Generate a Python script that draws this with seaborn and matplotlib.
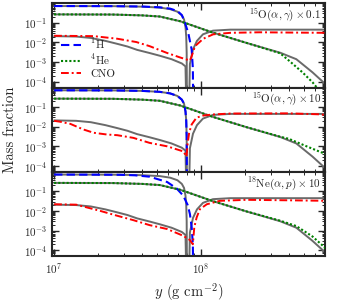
import numpy as np
import matplotlib
matplotlib.use("Agg")
import matplotlib.pyplot as plt
from matplotlib.ticker import LogLocator, NullFormatter
import seaborn as sns

# column depth given as log10(y / g cm^-2)
# baseline run, drawn grey in every panel
base_h_x = [7.0, 7.4, 7.6, 7.72, 7.79, 7.84, 7.87, 7.885, 7.895, 7.900, 7.903, 7.906]
base_h = [0.72, 0.71, 0.67, 0.60, 0.50, 0.37, 0.24, 0.15, 0.06, 0.02, 3e-3, 1e-7]
base_he_x = [7.0, 7.4, 7.6, 7.72, 7.86, 7.95, 8.08, 8.31, 8.54, 8.65, 8.76, 8.83, 8.85]
base_he = [0.27, 0.265, 0.24, 0.21, 0.12, 0.07, 0.032, 0.0095, 0.003, 0.0014, 3e-4, 1e-4, 7e-5]
base_cno_x = [7.0, 7.15, 7.25, 7.35, 7.43, 7.5, 7.565, 7.65, 7.72, 7.8, 7.87, 7.895, 7.905,
              7.915, 7.925, 7.946, 7.973, 8.014, 8.082, 8.2, 8.5, 8.85]
base_cno = [0.021, 0.02, 0.017, 0.012, 0.0085, 0.0062, 0.0042, 0.0029, 0.0021, 0.0014, 8.5e-4, 6e-4, 1e-7,
            1e-7, 8e-4, 4.4e-3, 0.012, 0.026, 0.04, 0.045, 0.045, 0.045]

# panel 1: 15O(a,g) x0.1
p1_h_x = [7.0, 7.4, 7.6, 7.72, 7.79, 7.84, 7.87, 7.89, 7.914, 7.937, 7.945, 7.95]
p1_h = [0.72, 0.71, 0.68, 0.62, 0.53, 0.40, 0.25, 0.11, 0.03, 4.4e-3, 5e-4, 1e-7]
p1_he_x = [7.0, 7.4, 7.6, 7.72, 7.86, 7.95, 8.08, 8.31, 8.54, 8.605, 8.694, 8.762, 8.80]
p1_he = [0.27, 0.265, 0.24, 0.21, 0.12, 0.07, 0.032, 0.0095, 0.0028, 1.1e-3, 2.9e-4, 9e-5, 4e-5]
p1_cno_x = [7.0, 7.27, 7.43, 7.56, 7.65, 7.77, 7.86, 7.91, 7.925, 7.935, 7.96, 8.016, 8.084,
            8.2, 8.4, 8.6, 8.85]
p1_cno = [0.022, 0.021, 0.0155, 0.0105, 0.0065, 0.0029, 0.0017, 0.0013, 0.0012, 0.0018, 0.0065,
          0.0155, 0.026, 0.031, 0.033, 0.032, 0.031]

# panel 2: 15O(a,g) x10
p2_h_x = base_h_x
p2_h = base_h
p2_he_x = [7.0, 7.4, 7.6, 7.72, 7.86, 7.95, 8.08, 8.31, 8.54, 8.6, 8.72, 8.83, 8.85]
p2_he = [0.27, 0.265, 0.24, 0.21, 0.12, 0.07, 0.032, 0.0095, 0.0031, 0.0024, 1e-3, 4.6e-4, 4.2e-4]
p2_cno_x = [7.0, 7.04, 7.11, 7.2, 7.27, 7.36, 7.43, 7.54, 7.65, 7.77, 7.88, 7.902, 7.91, 7.92,
            7.937, 7.97, 8.016, 8.08, 8.2, 8.6, 8.8, 8.85]
p2_cno = [0.02, 0.018, 0.014, 0.0072, 0.0049, 0.004, 0.0037, 0.0027, 0.0015, 0.001, 5.5e-4, 3e-4,
          1.5e-3, 5e-3, 0.013, 0.029, 0.037, 0.042, 0.047, 0.048, 0.043, 0.04]

# panel 3: 18Ne(a,p) x10
p3_h_x = [7.0, 7.45, 7.55, 7.65, 7.77, 7.835, 7.88, 7.91, 7.925, 7.937, 7.945, 7.95]
p3_h = [0.72, 0.70, 0.66, 0.56, 0.30, 0.14, 0.06, 0.02, 7e-3, 1.5e-3, 2e-4, 1e-7]
p3_he_x = [7.0, 7.4, 7.6, 7.72, 7.86, 7.95, 8.08, 8.31, 8.54, 8.65, 8.76, 8.83, 8.85]
p3_he = [0.27, 0.265, 0.24, 0.21, 0.12, 0.07, 0.032, 0.0095, 0.0032, 0.0017, 5e-4, 1.7e-4, 1.2e-4]
p3_cno_x = [7.0, 7.15, 7.31, 7.43, 7.54, 7.65, 7.77, 7.88, 7.925, 7.945, 7.955, 7.971, 7.993,
            8.04, 8.13, 8.31, 8.6, 8.85]
p3_cno = [0.022, 0.021, 0.0103, 0.0057, 0.0034, 0.0019, 0.0012, 5.4e-4, 3.3e-4, 2e-4, 1.5e-3,
          4.7e-3, 0.0123, 0.022, 0.033, 0.037, 0.035, 0.033]

panel_labels = [r"$^{15}$O$(\alpha,\gamma)\times$0.1",
                r"$^{15}$O$(\alpha,\gamma)\times$10",
                r"$^{18}$Ne$(\alpha,p)\times$10"]
runs = [(p1_h_x, p1_h, p1_he_x, p1_he, p1_cno_x, p1_cno),
        (p2_h_x, p2_h, p2_he_x, p2_he, p2_cno_x, p2_cno),
        (p3_h_x, p3_h, p3_he_x, p3_he, p3_cno_x, p3_cno)]

sns.set_style("ticks")
plt.rcParams["font.family"] = "serif"
plt.rcParams["font.serif"] = ["cmr10", "DejaVu Serif"]
plt.rcParams["mathtext.fontset"] = "cm"
plt.rcParams["axes.formatter.use_mathtext"] = True

fig, axes = plt.subplots(3, 1, sharex=True, figsize=(3.41, 3.02), dpi=100)
fig.subplots_adjust(left=0.153, right=0.953, top=0.989, bottom=0.152, hspace=0)

grey = "#6a6a6a"
for i, ax in enumerate(axes):
    ax.set_xscale("log")
    ax.set_yscale("log")
    for bx, by in [(base_h_x, base_h), (base_he_x, base_he), (base_cno_x, base_cno)]:
        sns.lineplot(x=10 ** np.array(bx), y=by, ax=ax, color=grey, lw=1.4,
                     estimator=None, sort=False, zorder=1)
    hx, h, hex_, he, cx, c = runs[i]
    lab = i == 0
    sns.lineplot(x=10 ** np.array(hx), y=h, ax=ax, color="#0000ff", lw=1.5,
                 linestyle=(0, (4, 2)), estimator=None, sort=False, zorder=3,
                 label=r"$^{1}$H" if lab else None)
    sns.lineplot(x=10 ** np.array(hex_), y=he, ax=ax, color="#008000", lw=1.5,
                 linestyle=(0, (1, 1)), estimator=None, sort=False, zorder=3,
                 label=r"$^{4}$He" if lab else None)
    sns.lineplot(x=10 ** np.array(cx), y=c, ax=ax, color="#ff0000", lw=1.4,
                 linestyle=(0, (4, 1.5, 1, 1.5)), estimator=None, sort=False, zorder=3,
                 label="CNO" if lab else None)
    ax.set_xlim(9.7e6, 7e8)
    ax.set_ylim(5e-5, 0.99)
    ax.yaxis.set_major_locator(LogLocator(base=10, numticks=12))
    ax.yaxis.set_minor_locator(LogLocator(base=10, subs=np.arange(2, 10), numticks=12))
    ax.yaxis.set_minor_formatter(NullFormatter())
    ax.text(0.985, 0.86, panel_labels[i], transform=ax.transAxes, ha="right",
            va="center", fontsize=8)
    ax.tick_params(which="both", direction="in", top=True, right=True, labelsize=8)
    ax.tick_params(which="major", length=5, width=1)
    ax.tick_params(which="minor", length=2.5, width=0.7)
    for s in ax.spines.values():
        s.set_linewidth(1.5)
    ax.set_ylabel("")
    if ax.get_legend() is not None:
        ax.get_legend().remove()

axes[0].legend(loc="lower left", bbox_to_anchor=(0.0, 0.0), frameon=False, fontsize=8,
               handlelength=1.8, labelspacing=0.15, borderpad=0.3)
axes[2].set_xlabel(r"$y$ (g cm$^{-2}$)", fontsize=10.5)
fig.text(0.03, 0.57, "Mass fraction", rotation=90, ha="center", va="center", fontsize=10.5)

fig.savefig("out.png", dpi=100)
